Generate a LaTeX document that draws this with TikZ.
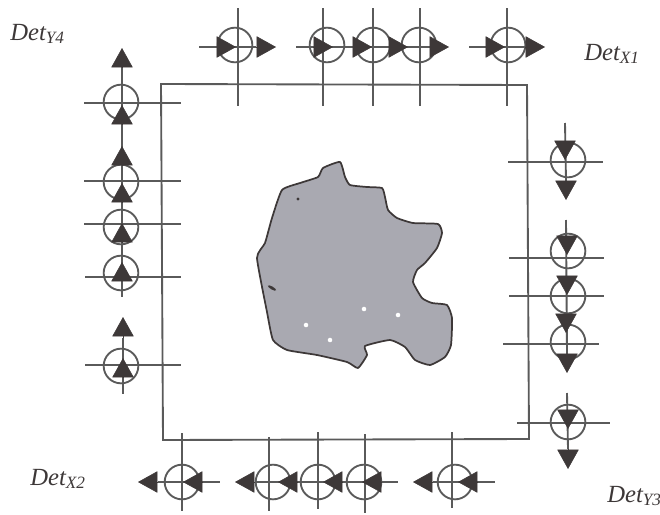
\documentclass[tikz,border=0pt]{standalone}
\usepackage{xcolor}
\usepackage{fontspec}
\setmainfont{Liberation Serif}
\usepackage{tikz}
\usetikzlibrary{arrows.meta}

\definecolor{inkline}{HTML}{5A5A5A}
\definecolor{inkhead}{HTML}{3D3838}
\definecolor{specimen}{HTML}{A9A9B1}

\begin{document}
\begin{tikzpicture}[
    x=0.75pt, y=-0.75pt,
    wire/.style={draw=inkline, line width=1.4pt},
    sensor/.style={circle, draw=inkline, line width=1.4pt, minimum size=26pt, inner sep=0pt},
    beam/.style={draw=inkhead, line width=0.4pt, -{Triangle[length=14.5pt,width=16pt,color=inkhead]}},
    detlabel/.style={font=\fontsize{18.5}{22}\selectfont\itshape, text=inkhead, inner sep=0pt, anchor=base west}
]
\useasboundingbox (0,0) rectangle (660,514);

% Scanned specimen in the middle
\draw[draw=inkhead, fill=specimen, line width=1.3pt, line join=round]
    plot[smooth cycle, tension=0.3] coordinates {
    (340,162) (345,177) (350,185) (367,187) (382,188) (385,197) (388,210) (397,218)
    (413,223) (438,224) (442,233) (437,248) (425,263) (417,270) (413,282) (422,298)
    (432,303) (447,305) (452,318) (451,345) (445,357) (430,365) (415,360) (405,347)
    (390,340) (365,346) (367,355) (358,368) (347,362) (317,355) (287,350) (273,340)
    (267,312) (257,258) (265,243) (272,218) (282,190) (300,183) (318,177) (323,168)};
\foreach \sx/\sy in {306/325, 330/340, 364/309, 398/315}
    \fill[white] (\sx,\sy) circle (1.7pt);
\fill[inkhead] (298,199) circle (1.3pt);
\fill[inkhead, rotate around={-30:(272,288)}] (272,288) ellipse (3.5pt and 1.1pt);

% Frame
\draw[wire] (161,84) -- (527,85) -- (529,439) -- (163,440) -- cycle;

% Top row: sensors, then axis lines
\foreach \name/\cx/\lx in {topA/235/238, topB/327/323, topC/373/373, topD/419/420, topE/508/507} {
    \node[sensor] (\name) at (\cx,45) {};
    \draw[wire] (\lx,8) -- (\lx,106);
}
\draw[wire] (199,47) -- (256,47);
\draw[wire] (296,47) -- (432,47);
\draw[wire] (469,47) -- (525,47);
\foreach \ax/\bx/\yy in {218/236/47, 256/276/47, 313/333/47, 353/372/47, 390/408/47, 430/449/47, 487/505/47, 525/545/47}
    \draw[beam] (\ax,\yy) -- (\bx,\yy);

% Left column
\foreach \name/\cy/\ly/\hx in {leftA/102/103/84, leftB/182/181/84, leftC/227/224/84, leftD/273/277/85, leftE/366/365/85} {
    \node[sensor] (\name) at (121,\cy) {};
    \draw[wire] (\hx,\ly) -- (181,\ly);
}
\draw[wire] (122,67) -- (122,297);
\draw[wire] (123,338) -- (123,394);
\foreach \ya/\yb/\xx in {125/105/122, 67/48/122, 202/183/122, 165/146/122, 242/223/122, 280/262/122, 377/358/123, 338/317/123}
    \draw[beam] (\xx,\ya) -- (\xx,\yb);

% Right column
\foreach \name/\cy/\ly/\hxa/\hxb in {rightA/160/162/508/603, rightB/251/258/509/604, rightC/296/296/509/604, rightD/342/344/503/599, rightE/422/423/517/610} {
    \node[sensor] (\name) at (568,\cy) {};
    \draw[wire] (\hxa,\ly) -- (\hxb,\ly);
}
\draw[wire] (565,123) -- (566,181);
\draw[wire] (566,220) -- (567,354);
\draw[wire] (567,393) -- (568,449);
\foreach \ya/\yb/\xx in {142/160/565, 181/200/566, 236/255/567, 277/295/567, 314/333/566, 354/373/567, 410/429/568, 449/469/568}
    \draw[beam] (\xx,\ya) -- (\xx,\yb);

% Bottom row
\foreach \name/\cx/\lx/\ya/\yb in {botA/182/182/433/511, botB/273/269/437/511, botC/318/318/432/509, botD/364/365/434/513, botE/455/452/432/508} {
    \node[sensor] (\name) at (\cx,482) {};
    \draw[wire] (\lx,\ya) -- (\lx,\yb);
}
\draw[wire] (158,482) -- (220,482);
\draw[wire] (255,482) -- (398,482);
\draw[wire] (433,482) -- (495,482);
\foreach \ax/\bx/\yy in {203/183/482, 158/138/482, 298/278/482, 255/235/482, 342/323/482, 381/362/482, 478/458/482, 433/413/482}
    \draw[beam] (\ax,\yy) -- (\bx,\yy);

% Detector labels
\node[detlabel] (detYfour) at (10,40) {Det\textsubscript{Y4}};
\node[detlabel] (detXone) at (584,60) {Det\textsubscript{X1}};
\node[detlabel] (detXtwo) at (30,485) {Det\textsubscript{X2}};
\node[detlabel] (detYthree) at (607,502) {Det\textsubscript{Y3}};
\end{tikzpicture}
\end{document}
